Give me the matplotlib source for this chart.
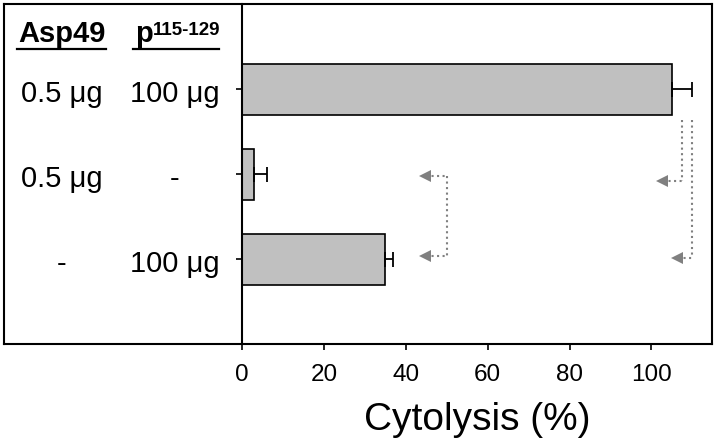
import matplotlib
matplotlib.use("Agg")
import matplotlib.pyplot as plt

plt.rcParams['font.family'] = ['Liberation Sans', 'DejaVu Sans']

asp49 = ["0.5 μg", "0.5 μg", "-"]
pep = ["100 μg", "-", "100 μg"]
values = [105, 3, 35]
errors = [5, 3, 2]
xticks = [0, 20, 40, 60, 80, 100]

fig = plt.figure(figsize=(7.18, 4.47), dpi=100)
ax = fig.add_axes([3.5/718, 1-344/447, (712-3.5)/718, (344-3.5)/447])
pos = list(range(len(values)))
ax.barh(pos, values, height=0.6, color='#c0c0c0', edgecolor='black', linewidth=1.2,
        xerr=[[0]*len(errors), errors], error_kw=dict(ecolor='black', elinewidth=1.3,
                                                      capsize=5.4, capthick=1.3))
ax.set_xlim(-58.24, 114.8)
ax.set_ylim(3.0, -1.006)
ax.spines['left'].set_position(('data', 0))
for s in ax.spines.values():
    s.set_linewidth(1.5)
ax.plot([0, 0], [0, 1], transform=ax.transAxes, color='black', lw=1.5, clip_on=False)
ax.set_yticks(pos)
ax.set_yticklabels([])
ax.set_xticks(xticks)
ax.set_xticklabels([str(t) for t in xticks])
ax.tick_params(axis='both', direction='out', length=4.3, width=1.2)
ax.tick_params(axis='x', labelsize=17.5, pad=10)

def px(x):
    return (x - 242) / 4.095

def py(y):
    return (y - 89) / 85

# table text
c1, c2 = px(61.5), px(174.5)
for i in pos:
    ax.text(c1, i + 0.15, asp49[i], ha='center', va='baseline', fontsize=21, clip_on=False)
    ax.text(c2, i + 0.15, pep[i], ha='center', va='baseline', fontsize=21, clip_on=False)
ax.text(c1, py(42), "Asp49", ha='center', va='baseline', fontsize=21, fontweight='bold')
ax.text(px(135), py(42), "p", ha='left', va='baseline', fontsize=21, fontweight='bold')
ax.text(px(153), py(35), "115-129", ha='left', va='baseline', fontsize=13.5, fontweight='bold')
ax.plot([px(17), px(106)], [py(48.5), py(48.5)], color='black', lw=1.6)
ax.plot([px(133), px(219)], [py(48.5), py(48.5)], color='black', lw=1.6)

# dotted arrows
gc = '#808080'
def bracket(xv, y1, y2, tips):
    ax.plot([xv, xv], [y1, y2], ls=':', color=gc, lw=1.5)
    for (yt, xt) in tips:
        ax.plot([xt + 1.5, xv], [yt, yt], ls=':', color=gc, lw=1.5)
        ax.plot([xt + 1.3], [yt], marker='<', color=gc, markersize=9, markeredgewidth=0)

bracket(50, 1.02, 1.96, [(1.02, 43.5), (1.96, 43.5)])
bracket(107.4, 0.36, 1.08, [(1.08, 101.3)])
bracket(110.0, 0.36, 1.99, [(1.99, 104.9)])

fig.text(477/718, 1-430/447, "Cytolysis (%)", ha='center', va='baseline', fontsize=28)
fig.savefig("out.png", dpi=100)
